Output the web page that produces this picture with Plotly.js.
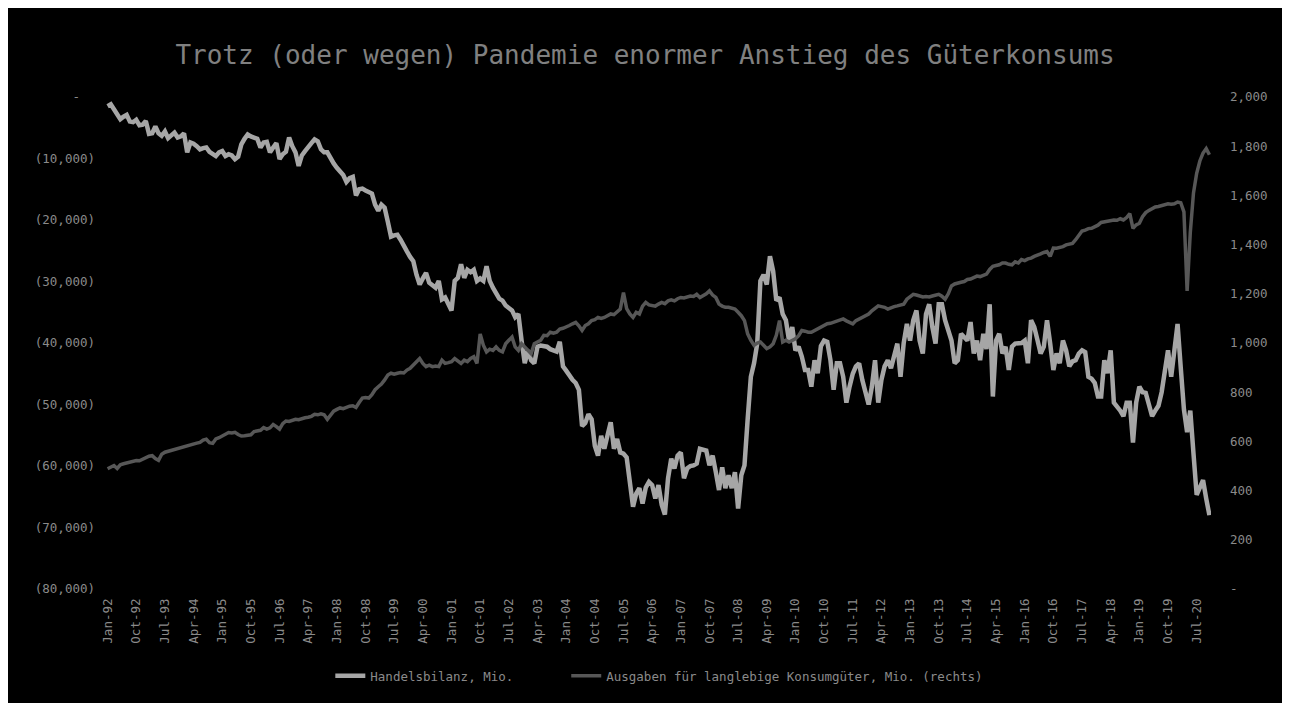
<!DOCTYPE html>
<html><head><meta charset="utf-8">
<script src="https://cdn.plot.ly/plotly-3.0.1.min.js"></script>
<style>html,body{margin:0;padding:0;background:#fff;} #chart{position:absolute;left:8px;top:8px;width:1274px;height:695px;}</style>
</head><body><div id="chart"></div>
<script>
const startYear = 1992;
const monthNames = ['Jan','Feb','Mar','Apr','May','Jun','Jul','Aug','Sep','Oct','Nov','Dec'];

const seriesNames = ['Handelsbilanz, Mio.', 'Ausgaben für langlebige Konsumgüter, Mio. (rechts)'];

const tradeBalance = [
-1500,-1200,-2000,-2800,-3600,-3200,-2900,-4000,-4100,-3700,-4600,-4500,
-3900,-6000,-5900,-4800,-5900,-6300,-5600,-6700,-6300,-5800,-6600,-6400,
-5900,-9000,-7400,-7600,-8000,-8500,-8300,-8200,-8900,-9200,-9600,-9000,
-8800,-9600,-9300,-9500,-10100,-9700,-7700,-6800,-6100,-6400,-6600,-6800,
-8200,-7400,-7300,-9000,-8200,-7500,-10100,-9300,-8900,-6600,-8000,-9000,
-11200,-9500,-8800,-8000,-7500,-6900,-7200,-8500,-9000,-9000,-10000,-10800,
-11500,-12000,-12700,-13800,-13200,-13000,-16000,-15000,-14900,-15200,-15500,-15700,
-17500,-18500,-17500,-18000,-20300,-22700,-22500,-22400,-23200,-24000,-25100,-26000,
-26700,-28900,-30500,-29500,-28600,-30200,-30600,-31000,-29900,-32900,-32600,-33500,
-34700,-29900,-29400,-27200,-29400,-28100,-28500,-28100,-29900,-29500,-29900,-27500,
-29900,-31000,-32100,-32800,-33100,-33900,-34300,-34700,-35800,-35300,-39600,-43300,
-41200,-42800,-43300,-40600,-40400,-40500,-40600,-41000,-41200,-41400,-39800,-43800,
-44500,-45400,-46000,-46500,-47600,-53500,-53000,-51600,-52400,-56700,-58300,-55100,
-57200,-55000,-52900,-57200,-55600,-57800,-58000,-58600,-63100,-66600,-64500,-63600,
-66100,-63500,-62600,-63100,-65300,-63100,-66300,-67900,-62000,-58800,-60400,-58300,
-57800,-62000,-60400,-60000,-59900,-59600,-57200,-57300,-57500,-59900,-58300,-61000,
-63900,-60200,-63600,-61500,-63600,-61000,-66900,-61500,-59900,-52400,-45500,-43300,
-40100,-29900,-28900,-30500,-25900,-28300,-33100,-32600,-35300,-36300,-39600,-37400,
-41200,-40600,-42200,-44400,-44400,-47100,-42800,-44900,-40500,-39600,-39800,-42800,
-47600,-43300,-43300,-45500,-49700,-47100,-45000,-43800,-43300,-46000,-48000,-50000,
-47100,-42800,-49700,-46000,-43800,-42800,-44100,-42000,-40100,-45500,-40000,-36900,
-39600,-36300,-34700,-39600,-41700,-35300,-33700,-37400,-40100,-33700,-33700,-36300,
-38000,-39600,-43300,-42800,-38500,-39000,-39600,-36600,-41700,-39600,-42800,-38500,
-41000,-33700,-48700,-39600,-38500,-41700,-40600,-44400,-40600,-40100,-40100,-40000,
-39600,-43300,-36300,-37400,-39500,-41700,-40600,-36300,-40100,-44400,-41700,-43300,
-39600,-41200,-43800,-43000,-42800,-41700,-41200,-41500,-45500,-45800,-46500,-48700,
-48700,-42800,-44900,-41200,-49700,-50300,-51000,-51900,-49700,-49700,-56200,-49700,
-47100,-48000,-48100,-50000,-51900,-51000,-50200,-48000,-44900,-41200,-45500,-41700,
-36900,-44000,-50800,-54500,-51000,-58000,-64700,-63500,-62300,-65300,-68000
];

const durableGoods = [
489,495,502,490,505,509,513,516,520,522,521,528,
535,540,542,530,523,548,556,560,562,565,570,576,
578,582,585,589,593,596,605,609,595,592,610,615,
622,628,636,634,637,628,622,623,625,627,640,643,
645,656,650,655,669,660,650,672,683,681,684,690,
688,693,696,698,702,710,708,712,708,690,705,723,
730,736,733,740,743,745,738,758,776,778,776,790,
810,822,833,850,870,877,873,877,880,878,890,897,
910,924,937,917,904,910,904,906,904,930,917,920,
924,937,925,917,930,924,937,944,917,1037,991,964,
975,970,984,970,964,997,1011,1024,984,970,997,984,
970,957,997,1005,1011,1031,1030,1044,1040,1044,1057,1060,
1064,1071,1078,1084,1070,1051,1071,1078,1091,1095,1104,1100,
1104,1111,1118,1115,1125,1138,1205,1140,1118,1104,1125,1118,
1150,1165,1155,1151,1150,1158,1165,1160,1171,1175,1171,1180,
1185,1183,1187,1191,1189,1198,1185,1191,1200,1212,1195,1185,
1158,1150,1145,1145,1141,1138,1125,1111,1091,1037,1011,991,
1000,1004,991,977,984,997,1031,1091,1004,1011,1004,1010,
1017,1030,1051,1048,1044,1044,1051,1058,1064,1071,1078,1080,
1084,1090,1091,1098,1090,1084,1078,1091,1098,1104,1111,1118,
1131,1140,1151,1148,1145,1138,1145,1148,1151,1155,1158,1178,
1190,1198,1195,1191,1187,1189,1187,1191,1195,1198,1190,1178,
1200,1232,1240,1245,1247,1250,1258,1260,1265,1272,1270,1274,
1280,1299,1312,1315,1318,1325,1325,1320,1318,1330,1325,1339,
1335,1342,1345,1352,1359,1362,1368,1372,1352,1386,1385,1388,
1392,1399,1402,1405,1420,1439,1455,1459,1465,1466,1472,1479,
1490,1493,1495,1499,1500,1499,1505,1500,1510,1526,1466,1480,
1487,1513,1530,1539,1546,1553,1555,1559,1560,1566,1564,1566,
1573,1570,1533,1212,1450,1610,1690,1740,1772,1790,1765
];

const xTickLabels = ['Jan-92','Oct-92','Jul-93','Apr-94','Jan-95','Oct-95','Jul-96','Apr-97','Jan-98','Oct-98',
'Jul-99','Apr-00','Jan-01','Oct-01','Jul-02','Apr-03','Jan-04','Oct-04','Jul-05','Apr-06','Jan-07','Oct-07',
'Jul-08','Apr-09','Jan-10','Oct-10','Jul-11','Apr-12','Jan-13','Oct-13','Jul-14','Apr-15','Jan-16','Oct-16',
'Jul-17','Apr-18','Jan-19','Oct-19','Jul-20'];

const leftTickVals = [0,-10000,-20000,-30000,-40000,-50000,-60000,-70000,-80000];
const leftTickText = ['-\u00a0\u00a0','(10,000)','(20,000)','(30,000)','(40,000)','(50,000)','(60,000)','(70,000)','(80,000)'];
const rightTickVals = [0,200,400,600,800,1000,1200,1400,1600,1800,2000];
const rightTickText = ['-','200','400','600','800','1,000','1,200','1,400','1,600','1,800','2,000'];

const months = tradeBalance.map((_, i) =>
  monthNames[i % 12] + '-' + String((startYear + Math.floor(i / 12)) % 100).padStart(2, '0'));

const FONT = 'DejaVu Sans Mono';
const tickFont = {family: FONT, size: 12.5, color: '#8a8a8a'};

const traces = [
  {x: months, y: tradeBalance, name: seriesNames[0], type: 'scatter', mode: 'lines',
   line: {color: '#a6a6a6', width: 4.5}, legend: 'legend', hoverinfo: 'skip'},
  {x: months, y: durableGoods, name: seriesNames[1], type: 'scatter', mode: 'lines',
   yaxis: 'y2', line: {color: '#575757', width: 3.5}, legend: 'legend2', hoverinfo: 'skip'}
];

const layout = {
  width: 1274, height: 695,
  paper_bgcolor: '#000', plot_bgcolor: '#000',
  margin: {l: 98, r: 71, t: 89, b: 108},
  title: {text: 'Trotz (oder wegen) Pandemie enormer Anstieg des Güterkonsums',
          font: {family: FONT, size: 26, color: '#808080'},
          x: 0.5, xref: 'container', xanchor: 'center', y: 0.932, yref: 'container', yanchor: 'middle'},
  xaxis: {type: 'category', range: [-0.5, months.length - 0.5], tickvals: xTickLabels, ticktext: xTickLabels,
          tickangle: -90, tickfont: tickFont, showgrid: false, zeroline: false, showline: false,
          ticks: '', ticklabelstandoff: 6, fixedrange: true},
  yaxis: {range: [-80000, 0], tickvals: leftTickVals, ticktext: leftTickText, tickfont: tickFont,
          showgrid: false, zeroline: false, showline: false, ticks: '', ticklabelstandoff: 10},
  yaxis2: {overlaying: 'y', side: 'right', range: [0, 2000], tickvals: rightTickVals, ticktext: rightTickText,
           tickfont: tickFont, showgrid: false, zeroline: false, showline: false, ticks: '', ticklabelstandoff: 18},
  legend: {orientation: 'h', x: 0.203, xanchor: 'left', y: -0.177, yanchor: 'middle',
           font: {family: FONT, size: 12.5, color: '#8a8a8a'}, bgcolor: 'rgba(0,0,0,0)'},
  legend2: {orientation: 'h', x: 0.4165, xanchor: 'left', y: -0.177, yanchor: 'middle',
           font: {family: FONT, size: 12.5, color: '#8a8a8a'}, bgcolor: 'rgba(0,0,0,0)'},
  showlegend: true
};

Plotly.newPlot('chart', traces, layout, {displayModeBar: false, staticPlot: true});
</script>
</body></html>
